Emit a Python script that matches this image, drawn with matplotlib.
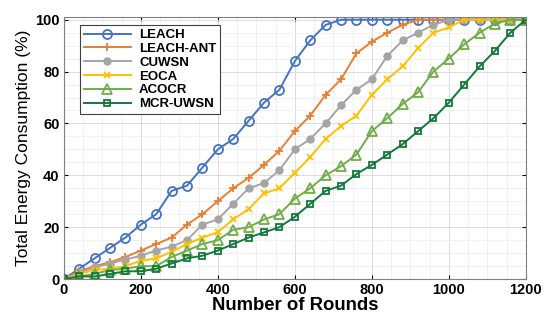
import matplotlib.pyplot as plt
import matplotlib.ticker as mticker
import numpy as np

plt.rcParams['font.family'] = ['Liberation Sans', 'DejaVu Sans']

rounds = np.arange(0, 1201, 40)

leach = [0, 4, 8, 12, 16, 21, 25, 34, 36, 43, 50, 54, 61, 68, 73, 84, 92, 98,
         100, 100, 100, 100, 100, 100, 100, 100, 100, 100, 100, 100, 100]
leach_ant = [0, 3, 5, 6.5, 8.5, 11, 13.5, 16, 21, 25, 30, 35, 39, 44, 49.5, 57,
             63, 71, 77, 87, 91.5, 95, 98, 100, 100, 100, 100, 100, 100, 100, 100]
cuwsn = [0, 2.5, 4.5, 6, 7.5, 9, 11, 12.5, 15, 21, 23, 29, 35, 37, 42, 50, 54,
         60, 67, 73, 77, 86, 92, 95, 98, 100, 100, 100, 100, 100, 100]
eoca = [0, 2, 3.5, 4, 5, 7, 8, 10.5, 13.5, 16, 18, 23, 27, 33, 35, 41, 47, 54,
        59, 63, 71, 77, 82, 89, 95, 97, 100, 100, 100, 100, 100]
acocr = [0, 1, 2, 3.5, 4, 5, 5, 8.5, 11, 13.5, 15, 19, 20, 23, 25, 31, 35, 40,
         43.5, 48, 57, 62, 67.5, 72, 80, 85, 90.5, 95, 98.5, 100, 100]
mcr_uwsn = [0, 1, 1, 2, 3, 3, 4, 6, 8, 9, 11, 13.5, 16, 18, 20, 24, 29, 34, 36,
            40.5, 44, 48, 52, 57, 62, 68, 75, 82, 88, 95, 100]

labels = ['LEACH', 'LEACH-ANT', 'CUWSN', 'EOCA', 'ACOCR', 'MCR-UWSN']

fig, ax = plt.subplots(figsize=(5.5, 3.23), dpi=100)
fig.subplots_adjust(left=0.116, right=0.956, bottom=0.136, top=0.947)

lw = 1.4
ax.plot(rounds, leach, color='#4472C4', lw=lw, marker='o', ms=6.5, mfc='none',
        mew=1.3, label=labels[0])
ax.plot(rounds, leach_ant, color='#ED7D31', lw=lw, marker='+', ms=6, mew=1.3,
        label=labels[1])
ax.plot(rounds, cuwsn, color='#A5A5A5', lw=lw, marker='o', ms=5,
        label=labels[2])
ax.plot(rounds, eoca, color='#FFC000', lw=lw, marker='x', ms=5, mew=1.3,
        label=labels[3])
ax.plot(rounds, acocr, color='#70AD47', lw=lw, marker='^', ms=6.5, mfc='none',
        mew=1.3, label=labels[4])
ax.plot(rounds, mcr_uwsn, color='#127A3A', lw=lw, marker='s', ms=5, mfc='none',
        mew=1.3, label=labels[5])

ax.set_xlim(0, 1200)
ax.set_ylim(0, 101)
ax.xaxis.set_major_locator(mticker.MultipleLocator(200))
ax.xaxis.set_minor_locator(mticker.MultipleLocator(50))
ax.yaxis.set_major_locator(mticker.MultipleLocator(20))
ax.yaxis.set_minor_locator(mticker.MultipleLocator(5))
ax.grid(which='major', color='#dcdcdc', lw=0.7)
ax.grid(which='minor', color='#efefef', lw=0.6)
ax.set_axisbelow(True)
ax.tick_params(which='both', direction='in', top=True, right=True)
ax.tick_params(which='major', length=3, labelsize=10.5, pad=3)
ax.tick_params(which='minor', length=0)
for lab in ax.get_xticklabels() + ax.get_yticklabels():
    lab.set_fontweight('bold')
for s in ax.spines.values():
    s.set_color('#808080')
    s.set_linewidth(0.8)

ax.set_xlabel('Number of Rounds', fontsize=13.3, fontweight='bold', labelpad=0)
ax.set_ylabel('Total Energy Consumption (%)', fontsize=12.5, labelpad=3)

leg = ax.legend(loc='upper left', prop={'weight': 'bold', 'size': 9.5},
                handlelength=3.6, labelspacing=0.12, borderpad=0.3,
                handletextpad=0.6, fancybox=False, edgecolor='#404040',
                framealpha=1, bbox_to_anchor=(0.02, 0.995))
leg.get_frame().set_linewidth(0.8)

plt.savefig('out.png', dpi=100)
